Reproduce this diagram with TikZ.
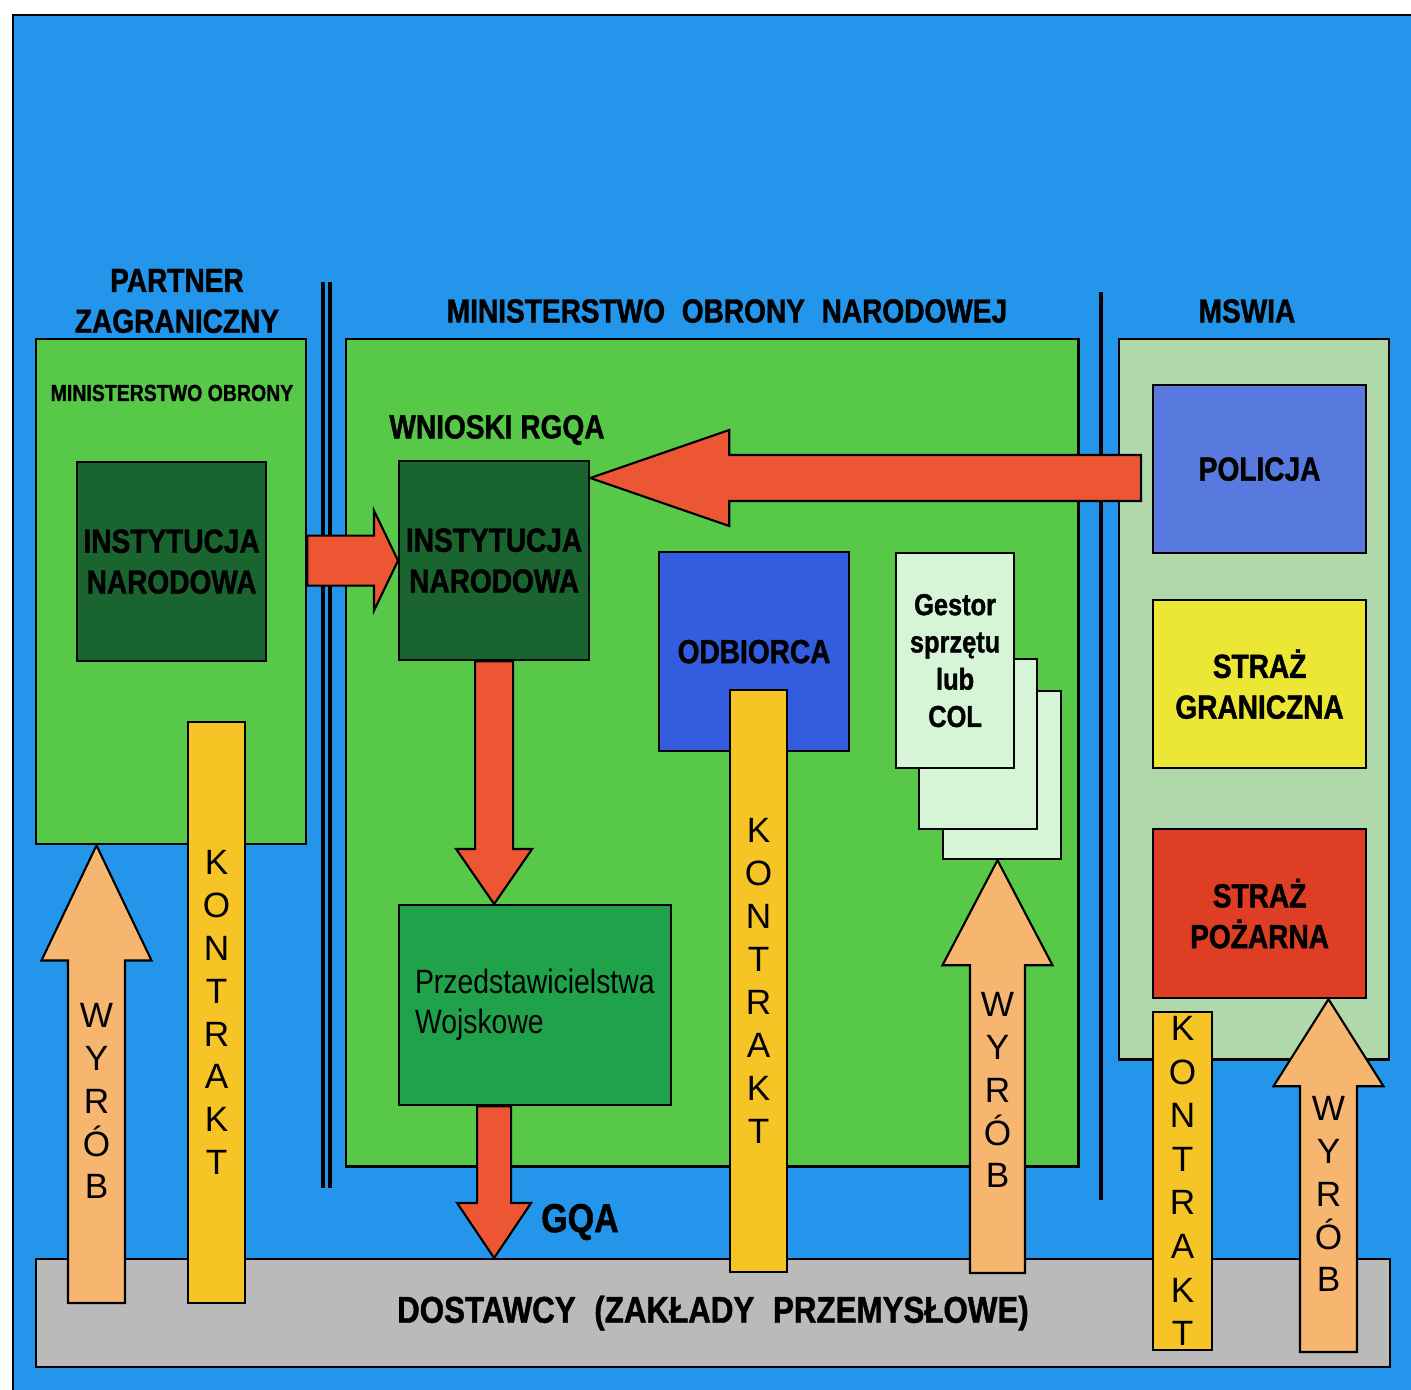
\documentclass[tikz,border=0pt]{standalone}
\usepackage{fontspec}
\setmainfont{Liberation Sans}
\newfontfamily\cnd[FakeStretch=0.84, BoldFeatures={FakeBold=1.2}]{Liberation Sans}
\usetikzlibrary{calc}

\definecolor{skyblue}{RGB}{35,150,235}
\definecolor{leaf}{RGB}{88,200,72}
\definecolor{darkleaf}{RGB}{26,100,48}
\definecolor{przgreen}{RGB}{32,162,74}
\definecolor{odbblue}{RGB}{52,92,222}
\definecolor{polblue}{RGB}{88,122,222}
\definecolor{pale}{RGB}{214,245,214}
\definecolor{mswgreen}{RGB}{176,216,170}
\definecolor{sgyellow}{RGB}{236,230,52}
\definecolor{spred}{RGB}{222,62,36}
\definecolor{arrowred}{RGB}{236,86,50}
\definecolor{gold}{RGB}{246,196,36}
\definecolor{wyrob}{RGB}{246,182,112}
\definecolor{dgray}{RGB}{186,186,186}

% #1 style, #2 tail, #3 tip, #4 half shaft, #5 half head, #6 head length
\newcommand\blockarrow[6]{%
  \path ($(#3)!#6!(#2)$) coordinate (ba-n);
  \filldraw[#1] ($(#2)!#4!90:(#3)$) -- ($(ba-n)!#4!90:(#3)$) -- ($(ba-n)!#5!90:(#3)$)
    -- (#3) -- ($(ba-n)!#5!-90:(#3)$) -- ($(ba-n)!#4!-90:(#3)$) -- ($(#2)!#4!-90:(#3)$) -- cycle;}

\begin{document}
\begin{tikzpicture}[x=0.01cm, y=-0.01cm,
    box/.style={draw, line width=0.6pt, inner sep=0pt, anchor=north west},
    hd/.style={align=center, font=\cnd\bfseries\fontsize{9.5}{11.6}\selectfont},
    ra/.style={fill=arrowred, draw, line width=0.6pt},
    wy/.style={fill=wyrob, draw, line width=0.6pt},
    kbar/.style={draw, line width=0.6pt, fill=gold, minimum width=0.57cm, inner sep=0pt,
                 align=center, font=\fontsize{10}{12.2}\selectfont},
    vtext/.style={align=center, inner sep=0pt, font=\fontsize{10}{12.2}\selectfont}]
  \useasboundingbox (0,0) rectangle (1411,1390);
  \fill[skyblue] (13,15) rectangle (1411,1390);
  \draw[line width=0.8pt] (1411,15) -- (13,15) -- (13,1390);
  \draw[line width=1.1pt] (323,282) -- (323,1188) (330,282) -- (330,1188);
  \draw[line width=1.2pt] (1101,292) -- (1101,1200);
  % partner zagraniczny
  \node[hd] (partner) at (177,301) {PARTNER\\ZAGRANICZNY};
  \node[box, fill=leaf, minimum width=2.70cm, minimum height=5.05cm] (mo) at (35,338) {};
  \node[font=\cnd\bfseries\fontsize{6.6}{8}\selectfont] (molbl) at (172,393) {MINISTERSTWO OBRONY};
  \node[box, hd, fill=darkleaf, minimum width=1.89cm, minimum height=1.99cm] (inst1) at (76,461) {INSTYTUCJA\\NARODOWA};
  % MON
  \node[hd] (monlbl) at (727,311) {MINISTERSTWO\enspace OBRONY\enspace NARODOWEJ};
  \node[box, fill=leaf, minimum width=7.32cm, minimum height=8.27cm] (mon) at (345,338) {};
  \node[hd] (wnioski) at (497,430) {WNIOSKI RGQA};
  \node[box, hd, fill=darkleaf, minimum width=1.90cm, minimum height=1.99cm] (inst2) at (398,460) {INSTYTUCJA\\NARODOWA};
  \node[box, hd, fill=odbblue, minimum width=1.90cm, minimum height=1.99cm] (odb) at (658,551) {ODBIORCA};
  \node[box, fill=pale, minimum width=1.18cm, minimum height=1.68cm] (ges3) at (942,690) {};
  \node[box, fill=pale, minimum width=1.18cm, minimum height=1.70cm] (ges2) at (918,658) {};
  \node[box, fill=pale, minimum width=1.18cm, minimum height=2.15cm, align=center,
        font=\cnd\bfseries\fontsize{8.6}{10.6}\selectfont] (ges1) at (895,552) {Gestor\\sprzętu\\lub\\COL};
  \node[box, fill=przgreen, minimum width=2.72cm, minimum height=2.00cm, text width=2.40cm, align=left,
        font=\cnd\fontsize{9.6}{11.4}\selectfont] (przed) at (398,904) {Przedstawicielstwa\\Wojskowe};
  \node[font=\cnd\bfseries\fontsize{11.5}{13}\selectfont] (gqa) at (580,1222) {GQA};
  % MSWiA
  \node[hd] (mswlbl) at (1247,311) {MSWIA};
  \node[box, fill=mswgreen, minimum width=2.70cm, minimum height=7.20cm] (msw) at (1118,338) {};
  \node[box, hd, fill=polblue, minimum width=2.13cm, minimum height=1.68cm] (pol) at (1152,384) {POLICJA};
  \node[box, hd, fill=sgyellow, minimum width=2.13cm, minimum height=1.68cm] (sg) at (1152,599) {STRAŻ\\GRANICZNA};
  \node[box, hd, fill=spred, minimum width=2.13cm, minimum height=1.69cm] (sp) at (1152,828) {STRAŻ\\POŻARNA};
  % dostawcy
  \node[box, fill=dgray, minimum width=13.53cm, minimum height=1.08cm,
        font=\cnd\bfseries\fontsize{10.6}{12}\selectfont] (dost) at (35,1258) {DOSTAWCY\enspace(ZAKŁADY\enspace PRZEMYSŁOWE)};
  % arrows
  \blockarrow{ra}{mo.east |- inst2.west}{inst2.west}{0.25cm}{0.5cm}{0.24cm}
  \coordinate (rt) at (1141,478);
  \blockarrow{ra}{rt}{rt -| inst2.east}{0.23cm}{0.48cm}{1.39cm}
  \blockarrow{ra}{inst2.south}{inst2.south |- przed.north}{0.19cm}{0.38cm}{0.55cm}
  \blockarrow{ra}{inst2.south |- przed.south}{inst2.south |- dost.north}{0.17cm}{0.37cm}{0.55cm}
  \coordinate (w1b) at (96.5,1303); \coordinate (w2b) at (997.5,1273); \coordinate (w3b) at (1328.5,1352);
  \blockarrow{wy}{w1b}{w1b |- mo.south}{0.285cm}{0.55cm}{1.15cm}
  \blockarrow{wy}{w2b}{w2b |- ges3.south}{0.275cm}{0.55cm}{1.05cm}
  \blockarrow{wy}{w3b}{w3b |- sp.south}{0.285cm}{0.55cm}{0.87cm}
  \node[vtext] (w1t) at (96.5,1101) {W\\Y\\R\\Ó\\B};
  \node[vtext] (w2t) at (997.5,1090) {W\\Y\\R\\Ó\\B};
  \node[vtext] (w3t) at (1328.5,1194) {W\\Y\\R\\Ó\\B};
  \node[kbar, minimum height=5.81cm] (k1) at (216.5,1012.5) {K\\O\\N\\T\\R\\A\\K\\T};
  \node[kbar, minimum height=5.82cm] (k2) at (758.5,981) {K\\O\\N\\T\\R\\A\\K\\T};
  \node[kbar, minimum width=0.59cm, minimum height=3.38cm, font=\fontsize{10}{12.4}\selectfont] (k3) at (1182.5,1181) {K\\O\\N\\T\\R\\A\\K\\T};
\end{tikzpicture}
\end{document}
